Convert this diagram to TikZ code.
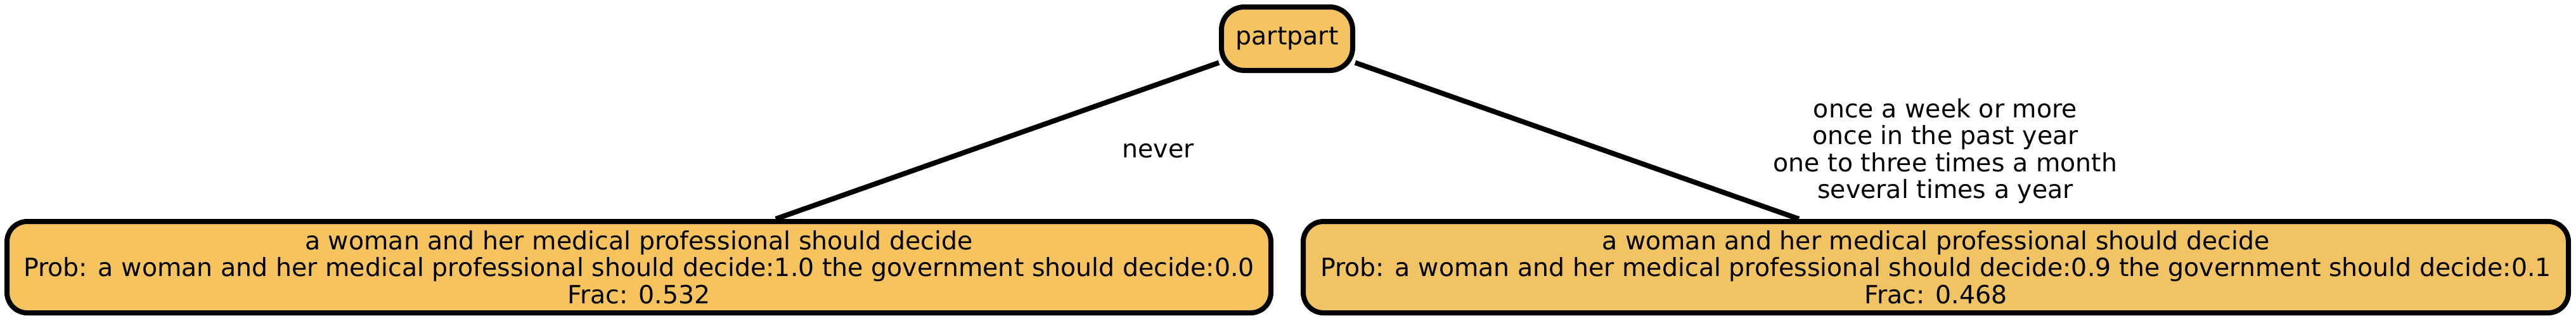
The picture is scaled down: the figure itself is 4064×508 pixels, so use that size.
\documentclass[tikz,border=0pt]{standalone}
\usepackage{fontspec}
\setmainfont{DejaVu Sans}
\definecolor{rootfill}{HTML}{F5C35F}
\definecolor{leftfill}{HTML}{F6C35E}
\definecolor{rightfill}{HTML}{F1C362}
\begin{document}
\begin{tikzpicture}[x=0.25pt,y=-0.25pt,
  every node/.style={font=\fontsize{9.875pt}{10.6pt}\selectfont},
  treenode/.style={draw=black, line width=2pt, rounded corners=8pt, align=center, inner sep=0pt},
  edgeline/.style={draw=black, line width=2pt},
  edgelabel/.style={align=center, inner sep=0pt}]
\useasboundingbox (0,0) rectangle (4064,508);
\node[treenode, fill=rootfill, minimum width=51.75pt, minimum height=25pt, rounded corners=9pt] (root) at (2030.5,61) {partpart};
\node[treenode, fill=leftfill, minimum width=498.5pt, minimum height=36pt] (left) at (1008,421)
  {a woman and her medical professional should decide\\Prob: a woman and her medical professional should decide:1.0 the government should decide:0.0\\Frac: 0.532};
\node[treenode, fill=rightfill, minimum width=499pt, minimum height=36pt] (right) at (3054,421)
  {a woman and her medical professional should decide\\Prob: a woman and her medical professional should decide:0.9 the government should decide:0.1\\Frac: 0.468};
\draw[edgeline] (root) -- (left);
\draw[edgeline] (root) -- (right);
\node[edgelabel] (lab1) at (1827,238) {never};
\node[edgelabel] (lab2) at (3069,238) {once a week or more\\once in the past year\\one to three times a month\\several times a year};
\end{tikzpicture}
\end{document}
